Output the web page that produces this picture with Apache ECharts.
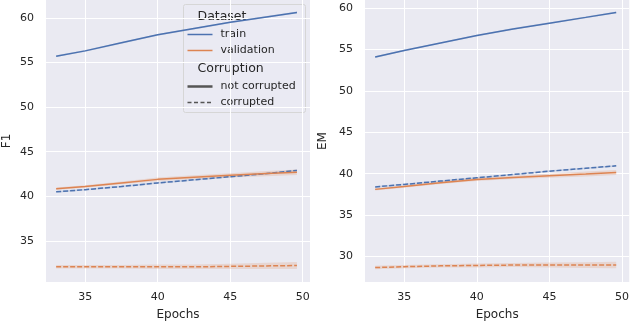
<!DOCTYPE html>
<html>
<head>
<meta charset="utf-8">
<script src="https://cdn.jsdelivr.net/npm/echarts@6/dist/echarts.min.js"></script>
<style>
  html, body { margin: 0; padding: 0; background: #fff; }
  #chart { width: 632px; height: 326px; }
</style>
</head>
<body>
<div id="chart"></div>
<script>
// epochs sampled along each curve
const epochs = [33, 35, 37.5, 40, 42.5, 45, 47.5, 49.6]

// F1 panel
const f1TrainClean = [55.7, 56.3, 57.2, 58.1, 58.8, 59.5, 60.1, 60.6]
const f1TrainCorrupt = [40.5, 40.75, 41.1, 41.5, 41.85, 42.2, 42.55, 42.9]
const f1ValClean = [40.85, 41.1, 41.5, 41.9, 42.15, 42.35, 42.55, 42.7]
const f1ValCorrupt = [32.1, 32.1, 32.1, 32.1, 32.1, 32.15, 32.2, 32.25]

// EM panel
const emTrainClean = [54.1, 54.9, 55.8, 56.7, 57.5, 58.2, 58.9, 59.5]
const emTrainCorrupt = [38.4, 38.7, 39.1, 39.5, 39.9, 40.3, 40.65, 40.95]
const emValClean = [38.1, 38.45, 38.9, 39.3, 39.55, 39.75, 39.95, 40.15]
const emValCorrupt = [28.65, 28.75, 28.85, 28.9, 28.95, 28.95, 28.95, 28.95]

// half width of the confidence bands
const bandTrain = [0.1, 0.1, 0.1, 0.1, 0.1, 0.1, 0.1, 0.1]
const bandVal = [0.15, 0.15, 0.15, 0.2, 0.2, 0.25, 0.3, 0.3]
const bandValCorrupt = [0.2, 0.2, 0.2, 0.25, 0.25, 0.3, 0.35, 0.4]

// tick labels
const xTicks = [35, 40, 45, 50]
const f1Ticks = [35, 40, 45, 50, 55, 60]
const emTicks = [30, 35, 40, 45, 50, 55, 60]

const BLUE = '#4C72B0'
const ORANGE = '#DD8452'
const TEXT = '#262626'
const FONT = 'DejaVu Sans'

function pairs(ys) {
  return epochs.map((x, i) => [x, ys[i]])
}

// confidence band as a polygon drawn through the axis scales
function band(idx, ys, half, color) {
  const data = epochs.map((x, i) => [x, ys[i] - half[i], ys[i] + half[i]])
  return {
    type: 'custom', xAxisIndex: idx, yAxisIndex: idx, silent: true, z: 1,
    data: data,
    encode: { x: 0, y: [1, 2] },
    renderItem: function (params, api) {
      if (params.dataIndex !== 0) return null
      const top = [], bottom = []
      for (let i = 0; i < data.length; i++) {
        top.push(api.coord([data[i][0], data[i][2]]))
        bottom.unshift(api.coord([data[i][0], data[i][1]]))
      }
      return {
        type: 'polygon',
        shape: { points: top.concat(bottom) },
        style: { fill: color, opacity: 0.2 }
      }
    }
  }
}

function line(idx, ys, color, dashed) {
  return {
    type: 'line', xAxisIndex: idx, yAxisIndex: idx, data: pairs(ys),
    symbol: 'none', z: 3,
    lineStyle: { color: color, width: 1.5, type: dashed ? [5, 2] : 'solid' }
  }
}

function xAxis(idx) {
  return {
    type: 'value', gridIndex: idx, min: 32.3, max: 50.5,
    name: 'Epochs', nameLocation: 'middle', nameGap: 27,
    nameTextStyle: { color: TEXT, fontSize: 12, fontFamily: FONT },
    axisLine: { show: false },
    axisTick: { show: false, customValues: xTicks },
    axisLabel: { color: TEXT, fontSize: 11, fontFamily: FONT, margin: 10, customValues: xTicks },
    splitLine: { lineStyle: { color: '#fff', width: 1 } }
  }
}

function yAxis(idx, name, min, max, gap, ticks) {
  return {
    type: 'value', gridIndex: idx, min: min, max: max,
    name: name, nameLocation: 'middle', nameGap: gap,
    nameTextStyle: { color: TEXT, fontSize: 12, fontFamily: FONT },
    axisLine: { show: false },
    axisTick: { show: false, customValues: ticks },
    axisLabel: { color: TEXT, fontSize: 11, fontFamily: FONT, margin: 12, customValues: ticks },
    splitLine: { lineStyle: { color: '#fff', width: 1 } }
  }
}

function legendGraphic() {
  const items = []
  items.push({ type: 'rect', shape: { x: 0, y: 0, width: 122, height: 108, r: 2 },
    style: { fill: 'rgba(234,234,242,0.8)', stroke: '#d6d6d6', lineWidth: 1 } })
  const rows = [
    { y: 12, title: 'Dataset' },
    { y: 30, text: 'train', color: BLUE },
    { y: 46, text: 'validation', color: ORANGE },
    { y: 64, title: 'Corruption' },
    { y: 82, text: 'not corrupted', color: '#555', w: 2.5 },
    { y: 98, text: 'corrupted', color: '#555', dash: [4, 2.5], w: 1.5 }
  ]
  rows.forEach(r => {
    if (r.title) {
      items.push({ type: 'text', x: 14, y: r.y, style: { text: r.title, font: '12.5px ' + FONT, fill: TEXT, verticalAlign: 'middle' } })
    } else {
      items.push({ type: 'line', shape: { x1: 4, y1: r.y, x2: 29, y2: r.y },
        style: { stroke: r.color, lineWidth: r.w || 1.5, lineDash: r.dash || null } })
      items.push({ type: 'text', x: 37, y: r.y, style: { text: r.text, font: '11px ' + FONT, fill: TEXT, verticalAlign: 'middle' } })
    }
  })
  return { type: 'group', left: 183, top: 4, z: 10, children: items }
}

const chart = echarts.init(document.getElementById('chart'), null, { renderer: 'canvas' })

chart.setOption({
  animation: false,
  backgroundColor: '#fff',
  grid: [
    { left: 44, right: 322, top: 0, bottom: 41, show: true, backgroundColor: '#EAEAF2', borderWidth: 0 },
    { left: 365, right: 0, top: 0, bottom: 41, show: true, backgroundColor: '#EAEAF2', borderWidth: 0 }
  ],
  xAxis: [xAxis(0), xAxis(1)],
  yAxis: [yAxis(0, 'F1', 30.4, 62, 33, f1Ticks), yAxis(1, 'EM', 26.9, 61, 36, emTicks)],
  series: [
    band(0, f1TrainClean, bandTrain, BLUE),
    band(0, f1TrainCorrupt, bandTrain, BLUE),
    band(0, f1ValClean, bandVal, ORANGE),
    band(0, f1ValCorrupt, bandValCorrupt, ORANGE),
    band(1, emTrainClean, bandTrain, BLUE),
    band(1, emTrainCorrupt, bandTrain, BLUE),
    band(1, emValClean, bandVal, ORANGE),
    band(1, emValCorrupt, bandValCorrupt, ORANGE),
    line(0, f1TrainClean, BLUE, false),
    line(0, f1TrainCorrupt, BLUE, true),
    line(0, f1ValClean, ORANGE, false),
    line(0, f1ValCorrupt, ORANGE, true),
    line(1, emTrainClean, BLUE, false),
    line(1, emTrainCorrupt, BLUE, true),
    line(1, emValClean, ORANGE, false),
    line(1, emValCorrupt, ORANGE, true)
  ],
  graphic: [legendGraphic()]
})
</script>
</body>
</html>
